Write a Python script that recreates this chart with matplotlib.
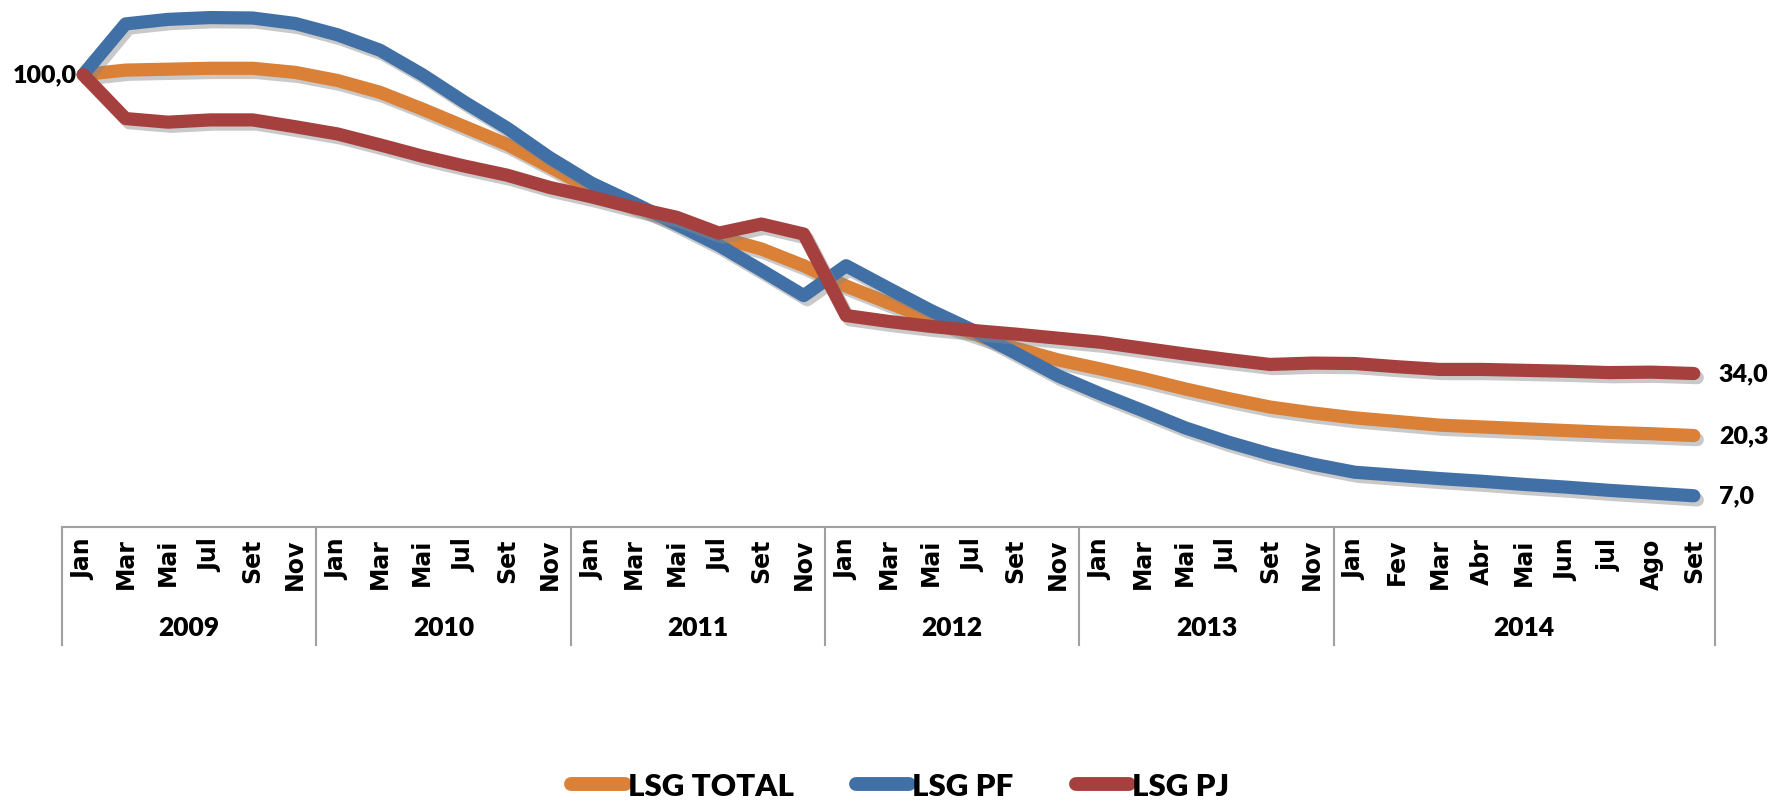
import matplotlib
matplotlib.use("Agg")
import matplotlib.pyplot as plt
import matplotlib.patheffects as pe
from matplotlib.lines import Line2D
import matplotlib.transforms as mtrans


meses = ["Jan", "Mar", "Mai", "Jul", "Set", "Nov"] * 5 + \
        ["Jan", "Fev", "Mar", "Abr", "Mai", "Jun", "jul", "Ago", "Set"]
anos = ["2009", "2010", "2011", "2012", "2013", "2014"]
meses_por_ano = [6, 6, 6, 6, 6, 9]

lsg_total = [100.0, 101.0, 101.2, 101.4, 101.4, 100.5,
             98.7, 96.1, 92.4, 88.5, 84.6, 79.7,
             74.7, 71.0, 67.4, 64.1, 61.5, 57.8,
             53.3, 49.6, 46.0, 42.8, 39.6, 37.0,
             35.0, 32.9, 30.6, 28.5, 26.6, 25.3,
             24.2, 23.4, 22.6, 22.2, 21.8, 21.4, 21.0, 20.7, 20.3]
lsg_pf = [100.0, 111.2, 112.2, 112.6, 112.5, 111.3,
          108.8, 105.4, 100.0, 93.9, 88.2, 81.7,
          76.0, 71.6, 67.0, 62.3, 56.8, 51.2,
          57.8, 52.8, 47.9, 43.5, 38.5, 33.5,
          29.5, 25.8, 22.0, 18.9, 16.2, 14.0,
          12.2, 11.5, 10.8, 10.2, 9.5, 8.9, 8.2, 7.6, 7.0]
lsg_pj = [100.0, 90.3, 89.5, 90.0, 90.0, 88.5,
          86.9, 84.5, 82.0, 79.8, 77.8, 75.1,
          73.0, 70.6, 68.5, 65.0, 67.0, 64.8,
          46.8, 45.5, 44.4, 43.5, 42.7, 41.8,
          40.9, 39.6, 38.3, 37.1, 36.0, 36.3,
          36.2, 35.5, 34.9, 34.9, 34.7, 34.5, 34.2, 34.3, 34.0]

series = [("LSG TOTAL", lsg_total, "#DA8037"),
          ("LSG PF", lsg_pf, "#4170A7"),
          ("LSG PJ", lsg_pj, "#A6403F")]

narrow = ["Lato", "DejaVu Sans"]


def fmt(v):
    return f"{v:.1f}".replace(".", ",")


fig = plt.figure(figsize=(17.71, 8.04), dpi=100)
ax = fig.add_axes([62 / 1771, 0.3427, (1715 - 62) / 1771, 1 - 0.3427])

x = list(range(len(meses)))
sombra = [pe.SimpleLineShadow(offset=(2.5, -3), shadow_color="#888888", alpha=0.45),
          pe.Normal()]
for nome, vals, cor in series:
    ax.plot(x, vals, color=cor, lw=9.5, solid_capstyle="round", solid_joinstyle="round",
            clip_on=False, path_effects=sombra)

ax.set_xlim(-0.5, len(meses) - 0.5)
ax.set_ylim(0, 116.7)

# rotulos de valor: inicio e fim
ax.annotate(fmt(lsg_total[0]), (0, lsg_total[0]), xytext=(-6, 0), textcoords="offset pixels",
            ha="right", va="center", fontsize=18, fontweight="heavy", family=narrow)
for nome, vals, cor in series:
    ax.annotate(fmt(vals[-1]), (x[-1], vals[-1]), xytext=(25, 0), textcoords="offset pixels",
                ha="left", va="center", fontsize=18, fontweight="heavy", family=narrow)

# eixo x com meses e anos
ax.set_xticks(x)
ax.set_xticklabels(meses, rotation=90, fontsize=17, fontweight="bold", family="DejaVu Sans")
ax.tick_params(axis="x", length=0, pad=7)
ax.set_yticks([])
for s in ["top", "right", "left"]:
    ax.spines[s].set_visible(False)
ax.spines["bottom"].set_color("#A0A0A0")
ax.spines["bottom"].set_linewidth(1.5)

trans = mtrans.blended_transform_factory(ax.transData, ax.transAxes)
inicio = -0.5
for ano, n in zip(anos, meses_por_ano):
    ax.plot([inicio, inicio], [0, -0.2223], transform=trans, color="#A0A0A0", lw=1.5, clip_on=False)
    ax.text(inicio + n / 2, -0.188, ano, transform=trans, ha="center", va="center",
            fontsize=19, fontweight="heavy", family=narrow)
    inicio += n
ax.plot([inicio, inicio], [0, -0.2223], transform=trans, color="#A0A0A0", lw=1.5, clip_on=False)

handles = [Line2D([], [], color=c, lw=10, solid_capstyle="round") for _, _, c in series]
fig.legend(handles, [s[0] for s in series], loc="center", bbox_to_anchor=(0.5085, 0.021),
           ncol=3, frameon=False, handlelength=1.7, handletextpad=0.1, columnspacing=2.0,
           prop={"family": narrow, "weight": "heavy", "size": 22.5})

fig.savefig("out.png", dpi=100)
